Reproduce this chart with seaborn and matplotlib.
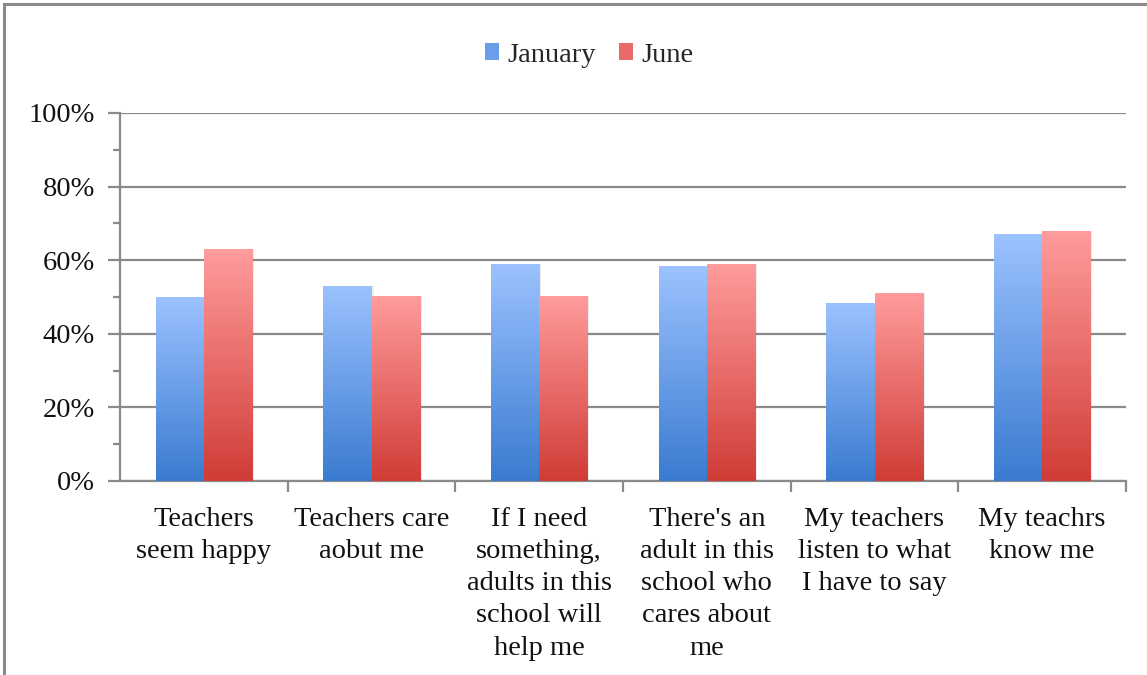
import numpy as np
import pandas as pd
import matplotlib
matplotlib.use("Agg")
import matplotlib.pyplot as plt
import seaborn as sns
from matplotlib.colors import LinearSegmentedColormap
from matplotlib.patches import Rectangle

categories = ["Teachers\nseem happy", "Teachers care\naobut me",
              "If I need\nsomething,\nadults in this\nschool will\nhelp me",
              "There's an\nadult in this\nschool who\ncares about\nme",
              "My teachers\nlisten to what\nI have to say", "My teachrs\nknow me"]
january = [50, 53, 59, 58.4, 48.4, 67]
june = [63, 50.3, 50.3, 59, 51, 68]
series = ["January", "June"]
yticks = [0, 20, 40, 60, 80, 100]
ytick_labels = ["0%", "20%", "40%", "60%", "80%", "100%"]

df = pd.DataFrame({
    "category": categories * 2,
    "value": january + june,
    "series": [series[0]] * len(categories) + [series[1]] * len(categories),
})

sns.set_theme(style="white")
plt.rcParams["font.family"] = ["Liberation Serif"]

fig = plt.figure(figsize=(11.47, 6.75), dpi=100)
ax = fig.add_axes([120/1147, 1-481/675, (1126-120)/1147, (481-113)/675])

top_cols = {"January": "#9cc2ff", "June": "#ff9c9c"}
bot_cols = {"January": "#3a7bd0", "June": "#d03c36"}
palette = {"January": "#6a9ee8", "June": "#e86a68"}

sns.barplot(data=df, x="category", y="value", hue="series", palette=palette,
            width=0.575, ax=ax, saturation=1, legend=True)

# gradient fill for each bar
for container, s in zip(ax.containers, series):
    cmap = LinearSegmentedColormap.from_list(s, [bot_cols[s], top_cols[s]])
    grad = np.linspace(0, 1, 256).reshape(-1, 1)
    for p in container.patches:
        x0, y0 = p.get_x(), p.get_y()
        w, h = p.get_width(), p.get_height()
        sh = Rectangle((x0 + 0.012, y0), w, h, facecolor="#000000", alpha=0.07,
                       edgecolor="none", zorder=2)
        ax.add_patch(sh)
        im = ax.imshow(grad, cmap=cmap, aspect="auto", origin="lower",
                       extent=[x0, x0 + w, y0, y0 + h], zorder=3, interpolation="bilinear")
        im.set_clip_path(p)
        p.set_facecolor("none")
        p.set_edgecolor("none")
ax.set_xlim(-0.5, len(categories) - 0.5)
ax.set_ylim(0, 100)

grid_c = "#8a8a8a"
ax.set_yticks(yticks)
ax.set_yticklabels(ytick_labels, fontsize=20.5, color="#111111")
ax.set_yticks(np.arange(10, 100, 20), minor=True)
ax.yaxis.grid(True, which="major", color=grid_c, linewidth=1.6, zorder=0)
ax.set_axisbelow(True)

ax.set_xticks(np.arange(len(categories)) + 0.5, minor=True)
ax.set_xticks(np.arange(len(categories)))
ax.set_xticklabels(categories, fontsize=20.5, color="#111111", linespacing=1.37)
ax.tick_params(axis="x", which="major", length=0, pad=19)
ax.tick_params(axis="x", which="minor", length=8, width=1.6, color=grid_c, bottom=True)
ax.tick_params(axis="y", which="both", length=9, width=1.6, color=grid_c, left=True, pad=9)
ax.tick_params(axis="y", which="minor", length=5)

for side in ["top", "right"]:
    ax.spines[side].set_visible(False)
for side in ["left", "bottom"]:
    ax.spines[side].set_color(grid_c)
    ax.spines[side].set_linewidth(1.6)
ax.set_xlabel("")
ax.set_ylabel("")

# legend
handles = [Rectangle((0, 0), 1, 1, facecolor=palette[s], edgecolor="none") for s in series]
if ax.get_legend() is not None:
    ax.get_legend().remove()
fig.legend(handles, series, loc="center", bbox_to_anchor=(589/1147, 1 - 55/675), ncol=2,
           frameon=False, fontsize=20.5, handlelength=0.5, handleheight=0.5,
           handletextpad=0.3, columnspacing=0.8)

# figure frame (outer border of the original chart box)
fig.patches.append(Rectangle((4/1147, -0.1), 1.2, 1 - 4/675 + 0.1, transform=fig.transFigure,
                             fill=False, edgecolor="#8a8a8a", linewidth=2.2))

fig.savefig("out.png", dpi=100)
